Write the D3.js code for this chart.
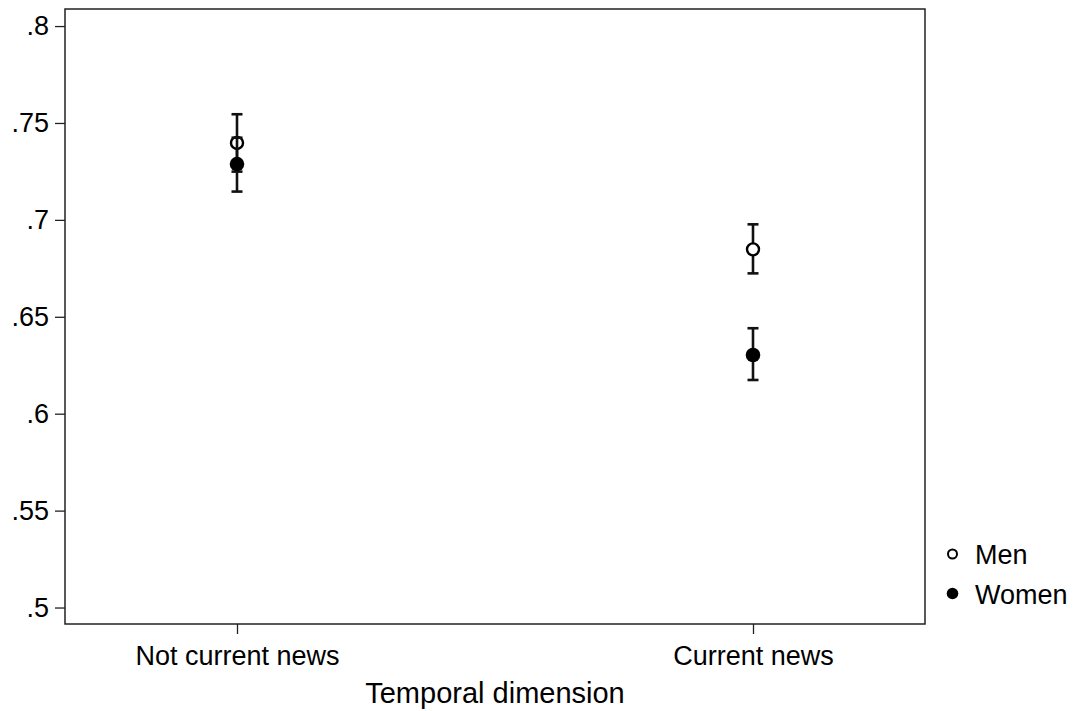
<!DOCTYPE html>
<html>
<head>
<meta charset="utf-8">
<script src="https://cdn.jsdelivr.net/npm/d3@7"></script>
<style>
  body { margin: 0; background: #fff; }
  svg { display: block; font-family: "Liberation Sans", Arial, sans-serif; }
</style>
</head>
<body>
<div id="chart"></div>
<script>
// data
const categories = ['Not current news', 'Current news'];
const menMean = [0.7397, 0.6848];
const menLow = [0.7249, 0.6724];
const menHigh = [0.7545, 0.6977];
const womenMean = [0.7288, 0.6303];
const womenLow = [0.7146, 0.6174];
const womenHigh = [0.7424, 0.6441];
const yTicks = [0.5, 0.55, 0.6, 0.65, 0.7, 0.75, 0.8];
const seriesNames = ['Men', 'Women'];

const width = 1073, height = 711;
const plot = { left: 65, right: 925, top: 9, bottom: 624 };

const svg = d3.select('#chart').append('svg')
  .attr('width', width).attr('height', height);

const x = d3.scalePoint()
  .domain(categories)
  .range([plot.left, plot.right])
  .padding(1 / 3);

const y = d3.scaleLinear()
  .domain([0.4915, 0.8088])
  .range([plot.bottom, plot.top]);

const fmt = v => d3.format('.2~f')(v).replace(/^0/, '');

// frame
svg.append('rect')
  .attr('x', plot.left).attr('y', plot.top)
  .attr('width', plot.right - plot.left).attr('height', plot.bottom - plot.top)
  .attr('fill', 'none').attr('stroke', '#222').attr('stroke-width', 1.5);

// y axis
const yAxis = svg.append('g')
  .attr('transform', `translate(${plot.left},0)`)
  .call(d3.axisLeft(y).tickValues(yTicks).tickFormat(fmt).tickSize(10).tickPadding(6));
yAxis.select('.domain').remove();
yAxis.selectAll('line').attr('stroke', '#222').attr('stroke-width', 1.3);
yAxis.selectAll('text').attr('font-size', 27).attr('fill', '#000')
  .attr('font-family', '"Liberation Sans", Arial, sans-serif');

// x axis
const xAxis = svg.append('g')
  .attr('transform', `translate(0,${plot.bottom})`)
  .call(d3.axisBottom(x).tickSize(10).tickPadding(12));
xAxis.select('.domain').remove();
xAxis.selectAll('line').attr('stroke', '#222').attr('stroke-width', 1.3);
xAxis.selectAll('text').attr('font-size', 27).attr('fill', '#000')
  .attr('font-family', '"Liberation Sans", Arial, sans-serif');

svg.append('text')
  .attr('x', (plot.left + plot.right) / 2).attr('y', 703)
  .attr('text-anchor', 'middle')
  .attr('font-size', 29)
  .text('Temporal dimension');

// error bars + markers
const capHalf = 5.5;
function drawSeries(mean, low, high, filled) {
  const g = svg.append('g');
  const rows = categories.map((c, i) => ({ c, m: mean[i], lo: low[i], hi: high[i] }));
  g.selectAll('line.ci').data(rows).enter().append('line')
    .attr('x1', d => x(d.c)).attr('x2', d => x(d.c))
    .attr('y1', d => y(d.lo)).attr('y2', d => y(d.hi))
    .attr('stroke', '#111').attr('stroke-width', 2.6);
  ['lo', 'hi'].forEach(k => {
    g.selectAll('line.cap-' + k).data(rows).enter().append('line')
      .attr('x1', d => x(d.c) - capHalf).attr('x2', d => x(d.c) + capHalf)
      .attr('y1', d => y(d[k])).attr('y2', d => y(d[k]))
      .attr('stroke', '#111').attr('stroke-width', 2.6);
  });
  g.selectAll('circle').data(rows).enter().append('circle')
    .attr('cx', d => x(d.c)).attr('cy', d => y(d.m))
    .attr('r', filled ? 7.3 : 6)
    .attr('fill', filled ? '#000' : '#fff')
    .attr('stroke', '#000').attr('stroke-width', filled ? 0 : 2.4);
}
drawSeries(menMean, menLow, menHigh, false);
drawSeries(womenMean, womenLow, womenHigh, true);

// legend
const legend = svg.append('g');
seriesNames.forEach((name, i) => {
  const yy = 554 + i * 39.5;
  legend.append('circle')
    .attr('cx', 952.5).attr('cy', yy)
    .attr('r', i === 0 ? 4.5 : 5.8)
    .attr('fill', i === 0 ? '#fff' : '#000')
    .attr('stroke', '#000').attr('stroke-width', i === 0 ? 2 : 0);
  legend.append('text')
    .attr('x', 975).attr('y', yy + 10)
    .attr('font-size', 27)
    .text(name);
});
</script>
</body>
</html>
